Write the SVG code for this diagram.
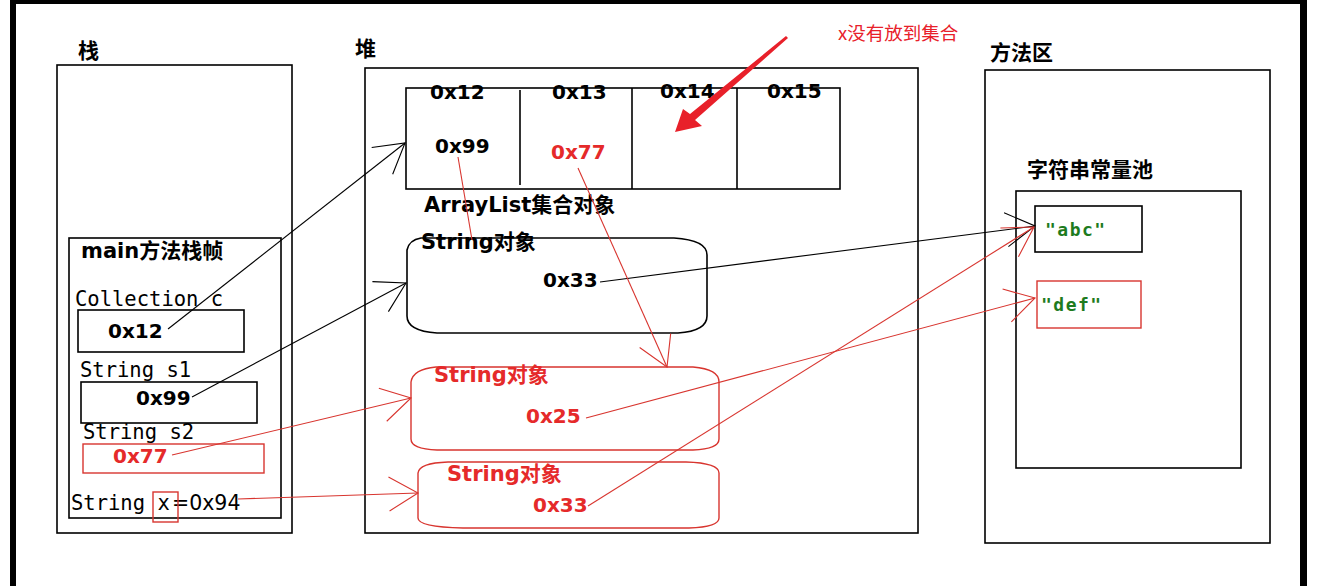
<svg xmlns="http://www.w3.org/2000/svg" width="1324" height="586" viewBox="0 0 1324 586">
<style>
.bx{fill:none;stroke:#000;stroke-width:1.6}
.rbx{fill:none;stroke:#d8352f;stroke-width:1.4}
.lbl{font-family:"DejaVu Sans","Noto Sans CJK SC",sans-serif;font-weight:bold;font-size:21px;fill:#000}
.cjk{font-family:"Noto Sans CJK SC",sans-serif;font-weight:bold;font-size:21px;fill:#000}
.hex{font-family:"DejaVu Sans","Noto Sans CJK SC",sans-serif;font-weight:bold;font-size:20px;fill:#000}
.red{fill:#e52a2a}
.mono{font-family:"DejaVu Sans Mono",monospace;font-size:20.5px;fill:#000}
.grn{font-family:"DejaVu Sans Mono",monospace;font-weight:bold;font-size:18px;fill:#1e7b1e;letter-spacing:1.5px}
.cb{fill:none;stroke:#000;stroke-width:1.1}
.cr{fill:none;stroke:#d8352f;stroke-width:1.1}
</style>
<defs>
<marker id="ab" markerUnits="userSpaceOnUse" markerWidth="40" markerHeight="40" viewBox="0 0 40 40" refX="30" refY="20" orient="auto"><path d="M1,3 L30,20 L1,37" fill="none" stroke="#000" stroke-width="1.1"/></marker>
<marker id="ar" markerUnits="userSpaceOnUse" markerWidth="40" markerHeight="40" viewBox="0 0 40 40" refX="30" refY="20" orient="auto"><path d="M1,3 L30,20 L1,37" fill="none" stroke="#d8352f" stroke-width="1.1"/></marker>
</defs>
<rect x="0" y="0" width="1324" height="586" fill="#fff"/>
<!-- outer frame -->
<g id="frame">
<rect x="10" y="0" width="6" height="586" fill="#000"/>
<rect x="10" y="0" width="1297" height="4" fill="#000"/>
<rect x="1300" y="0" width="7" height="586" fill="#000"/>
</g>
<!-- stack -->
<g id="stack">
<text x="78" y="58" class="cjk">栈</text>
<rect x="57" y="65" width="235" height="468" class="bx"/>
</g>
<g id="mainframe">
<rect x="69" y="238" width="212" height="280" class="bx"/>
<text x="81" y="258" class="lbl">main方法栈帧</text>
</g>
<g id="var-c">
<text x="75" y="306" class="mono">Collection c</text>
<rect x="78" y="310" width="166" height="42" class="bx"/>
<text x="108" y="338" class="hex">0x12</text>
</g>
<g id="var-s1">
<text x="80" y="377" class="mono">String s1</text>
<rect x="81" y="382" width="176" height="41" class="bx"/>
<text x="136" y="405" class="hex">0x99</text>
</g>
<g id="var-s2">
<text x="83" y="439" class="mono">String s2</text>
<rect x="83" y="444" width="181" height="29" class="rbx"/>
<text x="113" y="463" class="hex red">0x77</text>
</g>
<g id="var-x">
<text x="71" y="510" class="mono">String x</text>
<text x="172" y="510" style="font-family:'DejaVu Sans',sans-serif;font-size:20.5px;fill:#000">=0x94</text>
<rect x="153" y="492" width="25" height="30" class="rbx"/>
</g>
<!-- heap -->
<g id="heap">
<text x="355" y="56" class="cjk">堆</text>
<rect x="365" y="68" width="553" height="465" class="bx"/>
</g>
<g id="arraylist">
<rect x="406" y="88" width="434" height="101" class="bx"/>
<line x1="520" y1="90" x2="520" y2="185" class="bx"/>
<line x1="632" y1="88" x2="632" y2="189" class="bx"/>
<line x1="737" y1="88" x2="737" y2="189" class="bx"/>
<text x="430" y="99" class="hex">0x12</text>
<text x="552" y="99" class="hex">0x13</text>
<text x="660" y="98" class="hex">0x14</text>
<text x="767" y="98" class="hex">0x15</text>
<text x="435" y="153" class="hex">0x99</text>
<text x="551" y="159" class="hex red">0x77</text>
<text x="424" y="212" class="lbl">ArrayList集合对象</text>
</g>
<g id="string-obj1">
<path d="M421,238 L674,238 Q707,240 707,255 L707,316 Q707,331 678,333 L437,333 Q407,331 407,316 L407,250 Q409,240 421,238 Z" class="bx"/>
<text x="421" y="249" class="lbl">String对象</text>
<text x="543" y="287" class="hex">0x33</text>
</g>
<g id="string-obj2">
<path d="M436,367 L693,367 Q719,369 719,382 L719,439 Q719,449 693,450 L437,450 Q411,449 411,439 L411,382 Q413,369 436,367 Z" class="rbx"/>
<text x="434" y="382" class="lbl red">String对象</text>
<text x="526" y="423" class="hex red">0x25</text>
</g>
<g id="string-obj3">
<path d="M448,462 L686,462 Q719,463 719,473 L719,518 Q719,527 689,528 L463,528 Q418,527 418,518 L418,473 Q419,463 448,462 Z" class="rbx"/>
<text x="447" y="481" class="lbl red">String对象</text>
<text x="533" y="512" class="hex red">0x33</text>
</g>
<!-- method area -->
<g id="method-area">
<text x="990" y="60" class="cjk">方法区</text>
<rect x="985" y="70" width="285" height="473" class="bx"/>
</g>
<g id="string-pool">
<text x="1027" y="177" class="cjk">字符串常量池</text>
<rect x="1016" y="191" width="225" height="277" class="bx"/>
</g>
<g id="const-abc">
<rect x="1035" y="206" width="107" height="46" class="bx"/>
<text x="1045" y="236" class="grn">"abc"</text>
</g>
<g id="const-def">
<rect x="1037" y="281" width="104" height="47" class="rbx"/>
<text x="1041" y="311" class="grn">"def"</text>
</g>
<!-- annotation -->
<g id="note">
<polygon points="788,38 695,120 702,126 675,132 683,109 690,114 786,36" fill="#e8202a"/>
<text x="838" y="40" style="font-family:'Noto Sans CJK SC',sans-serif;font-size:18.5px;fill:#e8202a">x没有放到集合</text>
</g>
<!-- connectors -->
<g id="connectors">
<path d="M168,329 L405,143" class="cb" marker-end="url(#ab)"/>
<path d="M192,397 L406,283" class="cb" marker-end="url(#ab)"/>
<path d="M172,455 L411,398" class="cr" marker-end="url(#ar)"/>
<path d="M238,499 L418,493" class="cr" marker-end="url(#ar)"/>
<path d="M600,282 L1035,226" class="cb" marker-end="url(#ab)"/>
<path d="M588,506 L1034,227" class="cr" marker-end="url(#ar)"/>
<path d="M586,418 L1035,298" class="cr" marker-end="url(#ar)"/>
<path d="M458,157 L472,240" class="cr"/>
<path d="M578,168 L667,367" class="cr" marker-end="url(#ar)"/>
</g>
</svg>
